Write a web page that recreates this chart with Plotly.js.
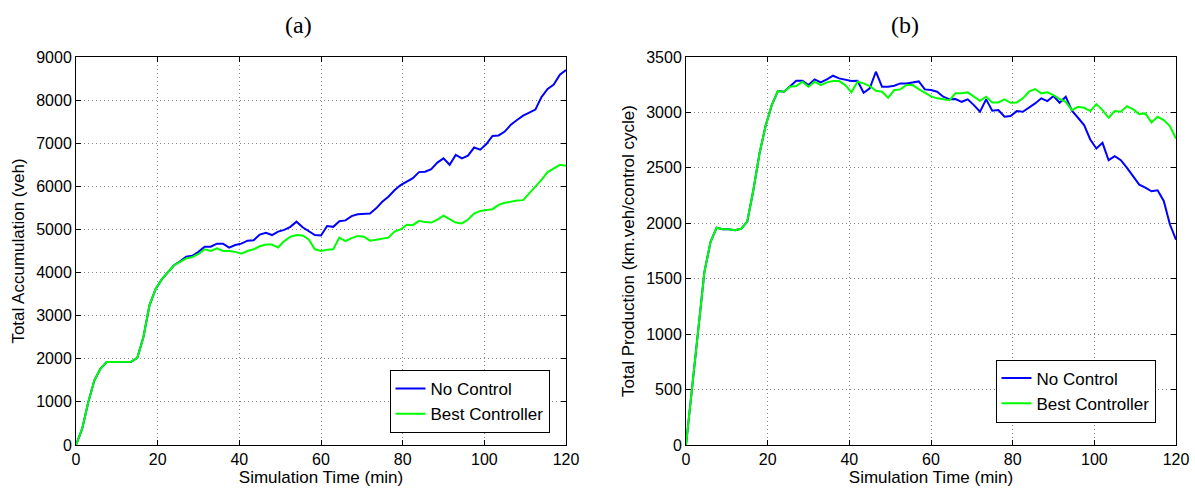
<!DOCTYPE html>
<html>
<head>
<meta charset="utf-8">
<script src="https://cdn.plot.ly/plotly-3.0.1.min.js"></script>
<style>html,body{margin:0;padding:0;background:#fff}#chart{width:1195px;height:489px}</style>
</head>
<body>
<div id="chart"></div>
<script>
// Simulation time (min), one sample every 1.5 min
const timeMin = [0,1.5,3,4.5,6,7.5,9,10.5,12,13.5,15,16.5,18,19.5,21,22.5,24,25.5,27,28.5,30,31.5,33,34.5,36,37.5,39,40.5,42,43.5,45,46.5,48,49.5,51,52.5,54,55.5,57,58.5,60,61.5,63,64.5,66,67.5,69,70.5,72,73.5,75,76.5,78,79.5,81,82.5,84,85.5,87,88.5,90,91.5,93,94.5,96,97.5,99,100.5,102,103.5,105,106.5,108,109.5,111,112.5,114,115.5,117,118.5,120];

// (a) Total Accumulation (veh)
const accNoControl = [0,372,992,1500,1770,1925,1925,1925,1925,1930,2020,2500,3240,3620,3840,4010,4170,4260,4370,4390,4480,4600,4600,4670,4670,4580,4640,4670,4740,4750,4880,4920,4870,4950,4990,5060,5180,5050,4950,4870,4860,5080,5060,5190,5210,5310,5350,5360,5370,5490,5640,5760,5910,6030,6120,6190,6330,6340,6400,6550,6650,6500,6730,6650,6710,6900,6850,6980,7170,7180,7270,7430,7540,7640,7710,7780,8070,8260,8360,8590,8700];
const accBest = [0,372,992,1500,1770,1925,1925,1925,1925,1930,2020,2500,3240,3620,3840,4010,4170,4250,4330,4360,4430,4540,4500,4560,4500,4500,4480,4440,4500,4540,4610,4650,4650,4580,4730,4830,4870,4860,4770,4540,4500,4530,4540,4810,4730,4800,4850,4830,4740,4760,4780,4810,4950,5000,5110,5100,5200,5170,5160,5230,5320,5240,5160,5140,5230,5370,5430,5450,5470,5570,5620,5640,5670,5680,5840,5980,6150,6330,6420,6500,6480];

// (b) Total Production (km.veh/control cycle)
const prodNoControl = [0,520,1080,1560,1830,1960,1946,1946,1937,1950,2015,2300,2630,2880,3066,3193,3187,3238,3286,3286,3247,3298,3271,3298,3331,3307,3292,3283,3286,3178,3217,3367,3232,3232,3241,3262,3262,3271,3280,3208,3202,3187,3142,3118,3121,3096,3118,3066,3006,3118,3015,3021,2961,2967,3012,3006,3042,3081,3127,3102,3148,3087,3142,3015,2952,2886,2756,2675,2726,2569,2605,2569,2500,2425,2349,2322,2289,2298,2202,1991,1852];
const prodBest = [0,520,1080,1560,1830,1960,1946,1946,1937,1950,2015,2300,2630,2880,3066,3193,3187,3232,3238,3277,3232,3277,3247,3271,3283,3283,3247,3181,3277,3262,3238,3196,3187,3132,3202,3208,3247,3247,3210,3175,3145,3127,3121,3111,3172,3172,3181,3142,3105,3142,3090,3090,3118,3087,3090,3127,3187,3211,3172,3181,3157,3121,3096,3021,3051,3042,3012,3075,3021,2952,3012,3006,3057,3027,2985,2991,2910,2961,2931,2877,2765];

const seriesNames = ['No Control', 'Best Controller'];
const panelTitles = ['(a)', '(b)'];
const xTitle = 'Simulation Time (min)';
const yTitles = ['Total Accumulation (veh)', 'Total Production (km.veh/control cycle)'];

const BLUE = '#0000ff', GREEN = '#00ff00';
const W = 1195, H = 489;
const sans = 'Liberation Sans, Arial, sans-serif';
const serif = 'Liberation Serif, Times New Roman, serif';

function line(x, y, name, color, xa, ya, leg) {
  return {x: x, y: y, name: name, type: 'scatter', mode: 'lines',
    line: {color: color, width: 2}, xaxis: xa, yaxis: ya, legend: leg, hoverinfo: 'skip'};
}

const traces = [
  line(timeMin, accNoControl, seriesNames[0], BLUE, 'x', 'y', 'legend'),
  line(timeMin, accBest, seriesNames[1], GREEN, 'x', 'y', 'legend'),
  line(timeMin, prodNoControl, seriesNames[0], BLUE, 'x2', 'y2', 'legend2'),
  line(timeMin, prodBest, seriesNames[1], GREEN, 'x2', 'y2', 'legend2')
];

const common = {
  ticks: 'inside', ticklen: 5, tickcolor: '#000', mirror: 'allticks', showline: true,
  linecolor: '#000', linewidth: 1, showgrid: true, gridcolor: '#888', griddash: '1px,3px', gridwidth: 1,
  zeroline: false, automargin: false, tickfont: {family: sans, size: 16, color: '#000'}
};

function xax(domain, anchor) {
  return Object.assign({}, common, {domain: domain, anchor: anchor, range: [0, 120],
    tickvals: [0,20,40,60,80,100,120],
    title: {text: xTitle, font: {family: sans, size: 17, color: '#000'}, standoff: 0}});
}
function yax(domain, anchor, range, dtick, title) {
  return Object.assign({}, common, {domain: domain, anchor: anchor, range: range, dtick: dtick, tick0: 0,
    title: {text: title, font: {family: sans, size: 17, color: '#000'}, standoff: 7}});
}

const yDom = [44 / H, (H - 57) / H];
const legendStyle = {xanchor: 'center', yanchor: 'middle',
  bgcolor: '#fff', bordercolor: '#000', borderwidth: 1,
  font: {family: sans, size: 17, color: '#000'}, tracegroupgap: 0, itemwidth: 30};

const layout = {
  width: W, height: H,
  margin: {l: 0, r: 0, t: 0, b: 0},
  paper_bgcolor: '#fff', plot_bgcolor: '#fff',
  showlegend: true,
  xaxis: xax([76 / W, 566 / W], 'y'),
  yaxis: yax(yDom, 'x', [0, 9000], 1000, yTitles[0]),
  xaxis2: xax([686 / W, 1176 / W], 'y2'),
  yaxis2: yax(yDom, 'x2', [0, 3500], 500, yTitles[1]),
  legend: Object.assign({}, legendStyle, {x: 469.5 / W, y: (H - 401.5) / H}),
  legend2: Object.assign({}, legendStyle, {x: 1075.5 / W, y: (H - 391) / H}),
  annotations: [
    {text: panelTitles[0], xref: 'paper', yref: 'paper', x: 299 / W, y: (H - 25) / H,
      xanchor: 'center', yanchor: 'middle', showarrow: false,
      font: {family: serif, size: 24, color: '#000'}},
    {text: panelTitles[1], xref: 'paper', yref: 'paper', x: 905 / W, y: (H - 25) / H,
      xanchor: 'center', yanchor: 'middle', showarrow: false,
      font: {family: serif, size: 24, color: '#000'}}
  ]
};

Plotly.newPlot('chart', traces, layout, {displayModeBar: false, staticPlot: true});
</script>
</body>
</html>
